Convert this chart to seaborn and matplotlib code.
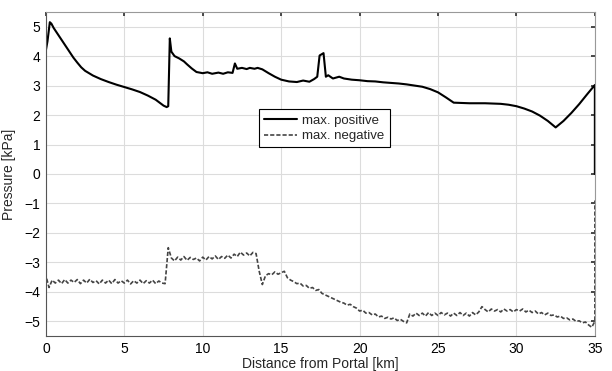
import numpy as np
import pandas as pd
import matplotlib
matplotlib.use("Agg")
import matplotlib.pyplot as plt
import seaborn as sns

# ---- data ----
pos_km = [0.0, 0.1, 0.25, 0.35, 0.5, 0.75, 1.0, 1.25, 1.5, 1.75, 2.0, 2.25, 2.5,
          3.0, 3.5, 4.0, 4.5, 5.0, 5.5, 6.0, 6.5, 7.0, 7.5, 7.7, 7.8, 7.9, 8.0,
          8.2, 8.5, 8.8, 9.0, 9.3, 9.6, 10.0, 10.3, 10.6, 11.0, 11.3, 11.6, 11.9,
          12.05, 12.2, 12.5, 12.8, 13.0, 13.3, 13.5, 13.8, 14.2, 14.6, 15.0, 15.5,
          16.0, 16.4, 16.8, 17.1, 17.3, 17.45, 17.7, 17.85, 18.0, 18.3, 18.7, 19.0,
          19.5, 20.0, 20.5, 21.0, 21.5, 22.0, 22.5, 23.0, 23.5, 24.0, 24.5, 25.0,
          25.5, 26.0, 27.0, 28.0, 29.0, 29.5, 30.0, 30.5, 31.0, 31.5, 32.0, 32.5,
          33.0, 33.5, 34.0, 34.5, 35.0, 35.0]
pos_kpa = [4.2, 4.5, 5.15, 5.1, 4.95, 4.75, 4.55, 4.35, 4.15, 3.95, 3.78, 3.62, 3.5,
           3.34, 3.22, 3.12, 3.03, 2.95, 2.87, 2.78, 2.66, 2.52, 2.32, 2.27, 2.3, 4.6, 4.15,
           4.0, 3.92, 3.82, 3.72, 3.58, 3.46, 3.42, 3.45, 3.4, 3.44, 3.4, 3.45, 3.43,
           3.75, 3.57, 3.6, 3.56, 3.6, 3.57, 3.6, 3.55, 3.42, 3.3, 3.2, 3.14,
           3.12, 3.17, 3.13, 3.22, 3.3, 4.02, 4.1, 3.3, 3.35, 3.24, 3.3, 3.24,
           3.2, 3.18, 3.15, 3.14, 3.11, 3.09, 3.07, 3.04, 3.0, 2.96, 2.88, 2.77,
           2.6, 2.42, 2.4, 2.4, 2.38, 2.35, 2.3, 2.22, 2.12, 1.98, 1.8, 1.58,
           1.8, 2.07, 2.37, 2.7, 3.02, 0.0]

neg_km = [0.0] + [round(0.2 * i, 1) for i in range(175)] + [35.0, 35.0]
neg_kpa = [0.0,
           -3.45, -3.85, -3.6, -3.7, -3.6, -3.72, -3.58, -3.7, -3.6, -3.68,
           -3.58, -3.72, -3.6, -3.7, -3.57, -3.68, -3.62, -3.73, -3.6, -3.7,
           -3.6, -3.72, -3.58, -3.7, -3.62, -3.7, -3.6, -3.73, -3.62, -3.7,
           -3.6, -3.72, -3.62, -3.7, -3.6, -3.72, -3.63, -3.7, -3.72, -2.5,
           -2.85, -2.95, -2.82, -2.92, -2.8, -2.93, -2.83, -2.9, -2.85, -2.95,
           -2.82, -2.92, -2.8, -2.88, -2.78, -2.9, -2.8, -2.86, -2.75, -2.85,
           -2.72, -2.8, -2.65, -2.75, -2.68, -2.78, -2.66, -2.7, -3.3, -3.75,
           -3.45, -3.38, -3.42, -3.32, -3.4, -3.35, -3.3, -3.52, -3.6, -3.65,
           -3.72, -3.7, -3.8, -3.78, -3.88, -3.85, -3.95, -3.92, -4.05, -4.1,
           -4.15, -4.2, -4.25, -4.3, -4.35, -4.38, -4.45, -4.42, -4.5, -4.55,
           -4.65, -4.62, -4.72, -4.7, -4.78, -4.75, -4.85, -4.82, -4.9, -4.86,
           -4.92, -4.88, -4.97, -4.93, -5.0, -5.05, -4.75, -4.82, -4.72, -4.8,
           -4.72, -4.82, -4.7, -4.8, -4.72, -4.8, -4.7, -4.78, -4.72, -4.82,
           -4.72, -4.8, -4.7, -4.8, -4.72, -4.82, -4.7, -4.78, -4.68, -4.5,
           -4.6, -4.68, -4.58, -4.65, -4.6, -4.68, -4.58, -4.65, -4.6, -4.68,
           -4.6, -4.65, -4.58, -4.68, -4.62, -4.7, -4.65, -4.75, -4.7, -4.78,
           -4.72, -4.8, -4.78, -4.85, -4.82, -4.9, -4.88, -4.95, -4.92, -5.0,
           -4.98, -5.05, -5.02, -5.12, -5.2,
           -5.0, -0.9]

x_ticks = [0, 5, 10, 15, 20, 25, 30, 35]
y_ticks = [5, 4, 3, 2, 1, 0, -1, -2, -3, -4, -5]

# ---- plot ----
sns.set_theme(style="white")
plt.rcParams['font.family'] = ['Liberation Sans', 'DejaVu Sans']

fig = plt.figure(figsize=(6.12, 3.71), dpi=100)
ax = fig.add_axes([0.075, 0.094, 0.897, 0.874])

pos_df = pd.DataFrame({"km": pos_km, "kpa": pos_kpa})
neg_df = pd.DataFrame({"km": neg_km, "kpa": neg_kpa})

sns.lineplot(data=pos_df, x="km", y="kpa", sort=False, estimator=None, ax=ax,
             color="black", linewidth=1.5, label="max. positive")
sns.lineplot(data=neg_df, x="km", y="kpa", sort=False, estimator=None, ax=ax,
             color="#444444", linewidth=1.2, linestyle=(0, (2.5, 1.2)),
             label="max. negative")

ax.set_xlim(0, 35)
ax.set_ylim(-5.5, 5.5)
ax.set_xticks(x_ticks)
ax.set_yticks(y_ticks)
ax.grid(True, color="#dcdcdc", linewidth=0.8)
ax.set_axisbelow(True)
ax.tick_params(direction="in", length=3, top=True, right=True, labelsize=10,
               colors="#333333", labelcolor="black", pad=4)
for side, sp in ax.spines.items():
    sp.set_visible(True)
    sp.set_linewidth(0.8)
    sp.set_color("#555555" if side in ("left", "bottom") else "#999999")

ax.set_xlabel("Distance from Portal [km]", fontsize=10, labelpad=1)
ax.set_ylabel("Pressure [kPa]", fontsize=10, labelpad=6)

leg = ax.legend(loc="upper left", bbox_to_anchor=(0.388, 0.70), fontsize=9.5,
                frameon=True, fancybox=False, edgecolor="black", framealpha=1,
                handlelength=2.5, borderpad=0.4, labelspacing=0.25,
                handletextpad=0.4, borderaxespad=0)
leg.get_frame().set_linewidth(0.8)

fig.savefig("out.png", dpi=100)
